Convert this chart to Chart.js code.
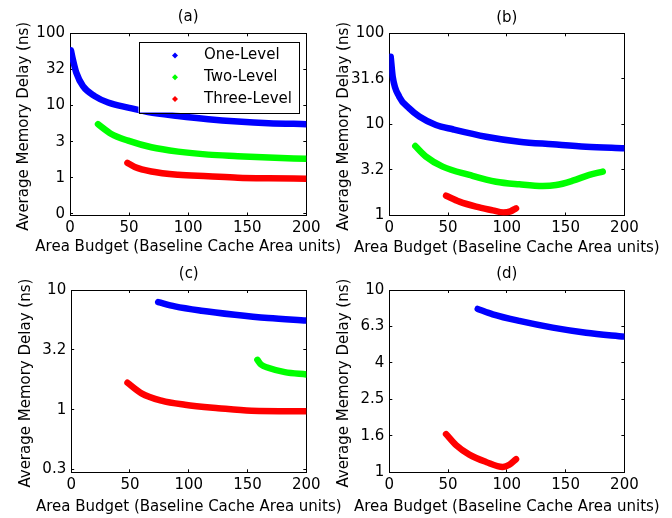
<!DOCTYPE html>
<html><head><meta charset="utf-8">
<script src="https://cdn.jsdelivr.net/npm/chart.js@4.4.1/dist/chart.umd.min.js"></script>
<style>
html,body{margin:0;padding:0;background:#fff;}
body{width:672px;height:518px;overflow:hidden;position:relative;}
canvas{position:absolute;}
</style></head><body>
<canvas id="ca"></canvas><canvas id="cb"></canvas><canvas id="cc"></canvas><canvas id="cd"></canvas>
<script>
// ---------- data ----------
const seriesNames = ['One-Level', 'Two-Level', 'Three-Level'];
const seriesColors = ['#0000ff', '#00ff00', '#ff0000'];
const xTitle = 'Area Budget (Baseline Cache Area units)';
const yTitle = 'Average Memory Delay (ns)';
const xTickVals = [0, 50, 100, 150, 200];

// (a)
const aYTickVals = [0.3162, 1, 3.162, 10, 31.62, 100];
const aYTickLabels = ['0', '1', '3', '10', '32', '100'];
const aOneX = [0.8, 2.5, 5.4, 11, 20.9, 32.2, 49.2, 66, 91.5, 117, 142, 168, 200];
const aOneY = [58, 43, 28.3, 18.5, 13.5, 11.0, 9.36, 8.15, 7.18, 6.47, 6.01, 5.70, 5.52];
const aTwoX = [23.7, 35, 49.2, 68.9, 91.5, 117, 142, 168, 200];
const aTwoY = [5.52, 4.03, 3.26, 2.64, 2.30, 2.09, 1.99, 1.90, 1.83];
const aThreeX = [48.6, 54.8, 68.9, 91.5, 117, 142, 168, 200];
const aThreeY = [1.61, 1.41, 1.22, 1.10, 1.05, 1.00, 0.98, 0.97];

// (b)
const bYTickVals = [1, 3.162, 10, 31.62, 100];
const bYTickLabels = ['1', '3.2', '10', '31.6', '100'];
const bOneX = [1.2, 2.9, 8.5, 17, 25.5, 39.7, 54, 82.3, 110.6, 139, 167.4, 200];
const bOneY = [55.3, 33.4, 20.1, 15.0, 12.2, 9.86, 8.84, 7.33, 6.46, 6.05, 5.69, 5.47];
const bTwoX = [22.1, 31.2, 45.4, 68.1, 90.8, 110.6, 130.5, 141.9, 156, 170.2, 181.6];
const bTwoY = [5.80, 4.43, 3.44, 2.79, 2.35, 2.20, 2.11, 2.16, 2.41, 2.79, 3.03];
const bThreeX = [48.3, 59.6, 73.8, 88, 97, 103, 107.8];
const bThreeY = [1.65, 1.42, 1.25, 1.14, 1.08, 1.11, 1.20];

// (c)
const cYTickVals = [0.3162, 1, 3.162, 10];
const cYTickLabels = ['0.3', '1', '3.2', '10'];
const cOneX = [74, 88.2, 110.8, 139.2, 167.5, 200];
const cOneY = [7.92, 7.30, 6.72, 6.22, 5.84, 5.56];
const cTwoX = [158.4, 161.6, 167.5, 181.7, 200];
const cTwoY = [2.61, 2.38, 2.24, 2.06, 1.97];
const cThreeX = [47.9, 59.8, 76.8, 96.7, 125, 153.3, 200];
const cThreeY = [1.68, 1.37, 1.19, 1.10, 1.03, 0.98, 0.97];

// (d)
const dYTickVals = [1, 1.585, 2.512, 3.981, 6.310, 10];
const dYTickLabels = ['1', '1.6', '2.5', '4', '6.3', '10'];
const dOneX = [75.2, 88, 110.6, 139, 167.4, 200];
const dOneY = [7.87, 7.36, 6.77, 6.22, 5.83, 5.55];
const dThreeX = [48.3, 56.8, 68.1, 82.3, 96.5, 102.1, 107.8];
const dThreeY = [1.62, 1.41, 1.25, 1.14, 1.07, 1.10, 1.18];

// ---------- rendering ----------
const FONT = '"DejaVu Sans", sans-serif';
Chart.defaults.font.family = FONT;
Chart.defaults.font.size = 15;
Chart.defaults.color = '#000';

function pts(xs, ys) { return xs.map((x, i) => ({ x: x, y: ys[i] })); }
function ds(idx, xs, ys) {
  return {
    label: seriesNames[idx], data: pts(xs, ys),
    borderColor: seriesColors[idx], backgroundColor: seriesColors[idx],
    borderWidth: 6.5, pointRadius: 0, fill: false,
    cubicInterpolationMode: 'monotone', borderCapStyle: 'round', borderJoinStyle: 'round'
  };
}

// box legend drawn inside the plot area
const boxLegend = {
  id: 'boxLegend',
  afterDatasetsDraw(chart, args, o) {
    if (!o || !o.show) return;
    const ctx = chart.ctx, ca = chart.chartArea;
    const x0 = ca.left + o.dx, y0 = ca.top + o.dy, x1 = ca.right - o.rx;
    ctx.save();
    ctx.fillStyle = '#fff';
    ctx.fillRect(x0, y0, x1 - x0, o.h);
    ctx.strokeStyle = '#000'; ctx.lineWidth = 1;
    ctx.strokeRect(Math.round(x0) + 0.5, Math.round(y0) + 0.5, Math.round(x1 - x0), Math.round(o.h));
    ctx.font = '15px ' + FONT;
    ctx.textBaseline = 'middle'; ctx.textAlign = 'left';
    chart.data.datasets.forEach((d, i) => {
      const y = y0 + o.row0 + i * o.rowGap;
      const mx = x0 + o.markerX;
      ctx.fillStyle = d.borderColor;
      ctx.beginPath();
      ctx.moveTo(mx, y - 3); ctx.lineTo(mx + 3, y); ctx.lineTo(mx, y + 3); ctx.lineTo(mx - 3, y);
      ctx.closePath(); ctx.fill();
      ctx.fillStyle = '#000';
      ctx.fillText(d.label, x0 + o.textX, y);
    });
    ctx.restore();
  }
};

// axis titles without width compression
const axisTitles = {
  id: 'axisTitles',
  afterDraw(chart, args, o) {
    const ctx = chart.ctx, ca = chart.chartArea;
    ctx.save();
    ctx.font = '15px ' + FONT;
    ctx.fillStyle = '#000';
    ctx.textAlign = 'center'; ctx.textBaseline = 'middle';
    ctx.fillText(o.xText, (ca.left + ca.right) / 2, o.xY);
    ctx.translate(o.yX, (ca.top + ca.bottom) / 2 + 2);
    ctx.rotate(-Math.PI / 2);
    ctx.fillText(o.yText, 0, 0);
    ctx.restore();
  }
};

function buildChart(p) {
  const cv = document.getElementById(p.id);
  cv.width = p.canvas.w; cv.height = p.canvas.h;
  cv.style.left = p.canvas.left + 'px'; cv.style.top = p.canvas.top + 'px';
  cv.style.width = p.canvas.w + 'px'; cv.style.height = p.canvas.h + 'px';
  const cl = p.canvas.left, ct = p.canvas.top;
  const axisW = p.plot.L - cl;
  const axisH = ct + p.canvas.h - p.plot.B;
  const titlePadTop = p.titleY - ct - 9;
  const titlePadBottom = (p.plot.T - ct) - 18 - titlePadTop;
  const rightPad = cl + p.canvas.w - p.plot.R;
  const grid = { drawOnChartArea: false, drawTicks: true, tickLength: -3, color: '#000', tickColor: '#000', lineWidth: 1, tickWidth: 1 };
  const border = { display: true, color: '#000', width: 1 };
  const setX = s => { s.ticks = xTickVals.map(v => ({ value: v })); };
  const setY = s => { s.ticks = p.yVals.map(v => ({ value: v })); };
  const yMin = p.yVals[0], yMax = p.yVals[p.yVals.length - 1];

  new Chart(cv, {
    type: 'line',
    data: { datasets: p.datasets },
    options: {
      responsive: false, animation: false, devicePixelRatio: 1,
      layout: { padding: { left: 0, top: 0, bottom: 0, right: rightPad } },
      plugins: {
        legend: { display: false }, tooltip: { enabled: false },
        title: { display: true, text: p.title, fullSize: false, color: '#000',
          font: { size: 15, weight: 'normal' }, padding: { top: titlePadTop, bottom: titlePadBottom } },
        boxLegend: p.legend || { show: false },
        axisTitles: { xText: xTitle, yText: yTitle, xY: p.xTitleY - ct, yX: p.yTitleX - cl }
      },
      scales: {
        x: { type: 'linear', position: 'bottom', min: 0, max: 200, afterBuildTicks: setX,
          ticks: { padding: 6.5, autoSkip: false, maxRotation: 0, color: '#000' },
          grid: grid, border: border, title: { display: false },
          afterFit: s => { s.height = axisH; } },
        x2: { type: 'linear', position: 'top', min: 0, max: 200, afterBuildTicks: setX,
          ticks: { display: false }, grid: grid, border: border,
          afterFit: s => { s.height = 0; } },
        y: { type: 'logarithmic', position: 'left', min: yMin, max: yMax, afterBuildTicks: setY,
          ticks: { padding: 8, autoSkip: false, color: '#000', callback: (v, i) => p.yLabels[i] },
          grid: grid, border: border, title: { display: false },
          afterFit: s => { s.width = axisW; } },
        y2: { type: 'logarithmic', position: 'right', min: yMin, max: yMax, afterBuildTicks: setY,
          ticks: { display: false }, grid: grid, border: border,
          afterFit: s => { s.width = 0; } }
      }
    },
    plugins: [boxLegend, axisTitles]
  });
}

buildChart({ id: 'ca', title: '(a)', canvas: { left: 0, top: 0, w: 350, h: 259 },
  plot: { L: 70, R: 306.3, T: 33.3, B: 215.5 }, titleY: 17.5, yTitleX: 24.5, xTitleY: 247,
  yVals: aYTickVals, yLabels: aYTickLabels,
  datasets: [ds(0, aOneX, aOneY), ds(1, aTwoX, aTwoY), ds(2, aThreeX, aThreeY)],
  legend: { show: true, dx: 68.5, dy: 8.2, rx: 8.3, h: 71, row0: 14, rowGap: 21.8, markerX: 36.5, textX: 65.5 } });
buildChart({ id: 'cb', title: '(b)', canvas: { left: 330, top: 0, w: 342, h: 259 },
  plot: { L: 389.3, R: 624.4, T: 33.3, B: 215.5 }, titleY: 18, yTitleX: 344, xTitleY: 248,
  yVals: bYTickVals, yLabels: bYTickLabels,
  datasets: [ds(0, bOneX, bOneY), ds(1, bTwoX, bTwoY), ds(2, bThreeX, bThreeY)] });
buildChart({ id: 'cc', title: '(c)', canvas: { left: 0, top: 259, w: 350, h: 259 },
  plot: { L: 71.2, R: 306.3, T: 290, B: 472.3 }, titleY: 274, yTitleX: 26, xTitleY: 507,
  yVals: cYTickVals, yLabels: cYTickLabels,
  datasets: [ds(0, cOneX, cOneY), ds(1, cTwoX, cTwoY), ds(2, cThreeX, cThreeY)] });
buildChart({ id: 'cd', title: '(d)', canvas: { left: 330, top: 259, w: 342, h: 259 },
  plot: { L: 389.3, R: 624.4, T: 290, B: 472.3 }, titleY: 274, yTitleX: 344, xTitleY: 507,
  yVals: dYTickVals, yLabels: dYTickLabels,
  datasets: [ds(0, dOneX, dOneY), ds(2, dThreeX, dThreeY)] });
</script>
</body></html>
